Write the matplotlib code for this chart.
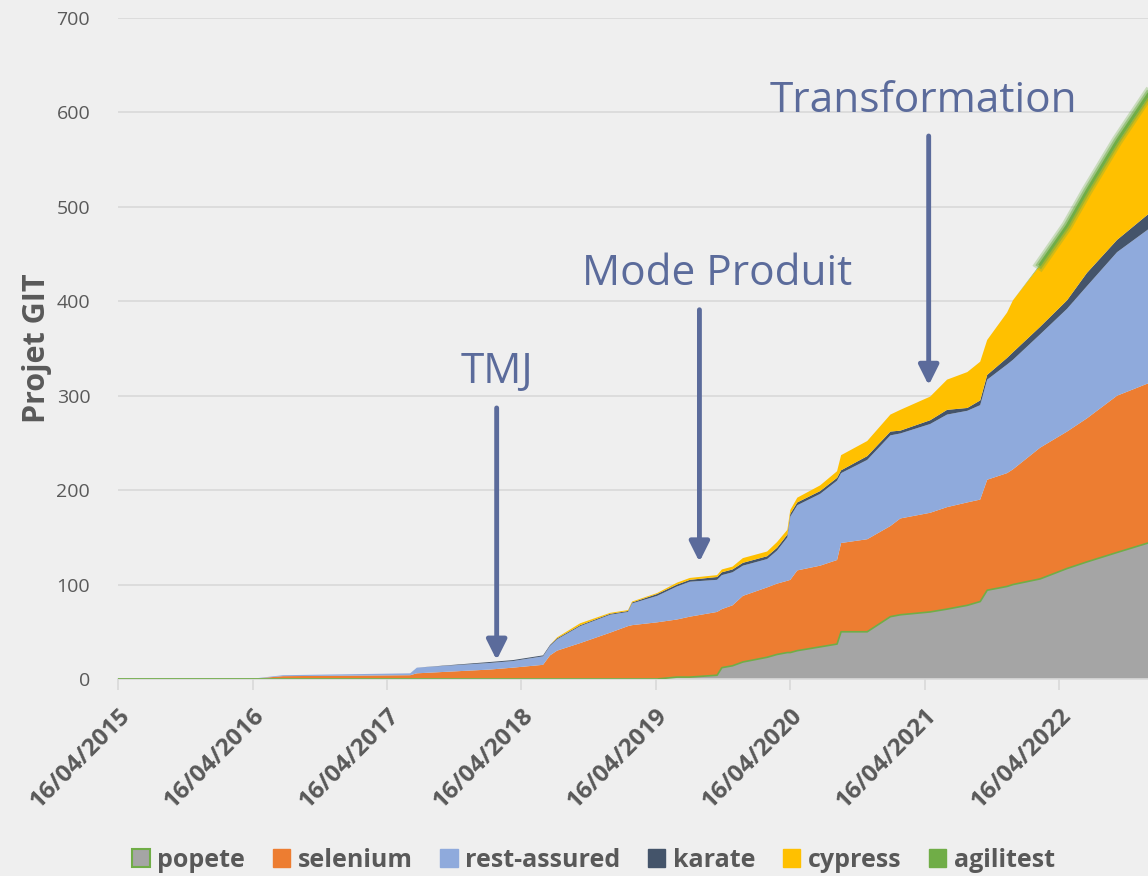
import numpy as np
import pandas as pd
import matplotlib
matplotlib.use("Agg")
import matplotlib.pyplot as plt
import matplotlib.dates as mdates
import matplotlib.patheffects as pe
from matplotlib.patches import Patch


# ----------------------------
# DATA
# ----------------------------
dates = [
    "2015-04-16", "2016-04-08", "2016-07-07", "2017-06-18", "2017-07-06",
    "2018-01-21", "2018-03-24", "2018-06-14", "2018-07-03", "2018-07-22",
    "2018-09-23", "2018-12-13", "2019-01-31", "2019-02-11", "2019-04-20",
    "2019-06-13", "2019-07-18", "2019-09-30", "2019-10-13", "2019-11-11",
    "2019-12-09", "2020-02-13", "2020-03-11", "2020-04-08", "2020-04-16",
    "2020-05-05", "2020-07-06", "2020-08-21", "2020-09-01", "2020-11-11",
    "2021-01-13", "2021-02-09", "2021-05-01", "2021-06-16", "2021-08-10",
    "2021-09-14", "2021-10-03", "2021-11-26", "2021-12-12", "2022-02-24",
    "2022-05-08", "2022-07-01", "2022-09-21", "2022-12-14",
]

popete = [0, 0, 0, 0, 0, 0, 0, 0, 0, 0,
          0, 0, 0, 0, 0, 2, 2, 4, 12, 14,
          18, 23, 26, 28, 28, 30, 34, 37, 50, 50,
          66, 68, 71, 74, 78, 82, 94, 98, 100, 106,
          117, 124, 134, 144]
selenium = [0, 0, 3, 4, 6, 10, 12, 15, 25, 30,
            38, 49, 56, 57, 60, 61, 64, 67, 62, 64,
            70, 74, 75, 76, 77, 85, 86, 89, 94, 98,
            96, 102, 105, 108, 109, 108, 117, 120, 122, 139,
            145, 152, 166, 169]
rest_assured = [0, 0, 1, 2, 6, 7, 7, 9, 10, 12,
                18, 19, 15, 23, 28, 35, 37, 34, 36, 35,
                32, 30, 35, 46, 67, 69, 76, 84, 74, 84,
                96, 90, 94, 98, 97, 100, 106, 115, 116, 120,
                130, 140, 152, 163]
karate = [0, 0, 0, 0, 0, 1, 1, 1, 1, 1,
          1, 1, 1, 1, 2, 2, 2, 3, 3, 3,
          3, 3, 3, 3, 3, 3, 3, 3, 3, 4,
          4, 3, 4, 5, 3, 5, 5, 7, 8, 8,
          9, 14, 13, 16]
cypress = [0, 0, 0, 0, 0, 0, 0, 0, 0, 1,
           2, 1, 1, 1, 1, 2, 2, 2, 3, 3,
           5, 5, 6, 5, 4, 5, 6, 7, 16, 16,
           18, 22, 25, 32, 38, 41, 37, 48, 55, 65,
           77, 85, 102, 124]
agilitest = [0, 0, 0, 0, 0, 0, 0, 0, 0, 0,
             0, 0, 0, 0, 0, 0, 0, 0, 0, 0,
             0, 0, 0, 0, 0, 0, 0, 0, 0, 0,
             0, 0, 0, 0, 0, 0, 0, 0, 0, 1,
             2, 2, 3, 3]

series_names = ["popete", "selenium", "rest-assured", "karate", "cypress", "agilitest"]
series_colors = ["#A5A5A5", "#ED7D31", "#8FAADC", "#44546A", "#FFC000", "#70AD47"]

tick_years = [2015, 2016, 2017, 2018, 2019, 2020, 2021, 2022]

# (label, text date, text y, arrow date, arrow start y, arrow tip y)
events = [
    ("TMJ", "2018-02-08", 325, "2018-02-08", 287, 20),
    ("Mode Produit", "2019-09-30", 429, "2019-08-13", 391, 124),
    ("Transformation", "2021-04-12", 612, "2021-04-27", 575, 311),
]


# ----------------------------
# FIGURE
# ----------------------------
BG = "#EFEFEF"
GRID = "#D9D9D9"
TXT = "#595959"
NOTE = "#5B6B9B"

plt.rcParams["font.family"] = ["Open Sans", "DejaVu Sans"]

fig = plt.figure(figsize=(11.48, 8.76), dpi=100, facecolor=BG)
ax = fig.add_axes([0.1028, 0.2249, 0.8972, 0.7546], facecolor=BG)

x = mdates.date2num(pd.to_datetime(dates))
values = [popete, selenium, rest_assured, karate, cypress, agilitest]

ax.stackplot(x, *values, colors=series_colors, linewidth=0, zorder=2)

# green outline on popete top
ax.plot(x, popete, color="#70AD47", lw=1.2, zorder=3)

# glowing agilitest top
total = np.sum(np.array(values), axis=0)
mask = np.array(agilitest) > 0
ax.plot(x[mask], total[mask], color="#70AD47", lw=2, zorder=4,
        path_effects=[pe.Stroke(linewidth=8, foreground="#70AD47", alpha=0.3),
                      pe.Stroke(linewidth=5, foreground="#70AD47", alpha=0.5),
                      pe.Normal()])

# axes styling
ax.set_ylim(0, 700)
ax.set_yticks(range(0, 701, 100))
ax.set_xlim(mdates.date2num(pd.Timestamp("2015-04-16")),
            mdates.date2num(pd.Timestamp("2022-12-14")))
ticks = [mdates.date2num(pd.Timestamp(f"{y}-04-16")) for y in tick_years]
ax.set_xticks(ticks)
ax.set_xticklabels([f"16/04/{y}" for y in tick_years], rotation=45,
                   ha="right", va="top", rotation_mode="anchor",
                   fontsize=17.5, fontweight="bold", color=TXT)

ax.grid(axis="y", color=GRID, lw=1.2, zorder=0)
ax.set_axisbelow(True)
for s in ["top", "right", "left"]:
    ax.spines[s].set_visible(False)
ax.spines["bottom"].set_color(GRID)
ax.spines["bottom"].set_linewidth(1.2)
ax.tick_params(axis="y", length=0, pad=20, labelsize=14, labelcolor=TXT)
ax.tick_params(axis="x", length=8, width=1.2, color=GRID, pad=10)

ax.set_ylabel("Projet GIT", fontsize=22, fontweight="bold", color=TXT, labelpad=3)

# event annotations
for label, tdate, ty, adate, y0, y1 in events:
    ax.text(mdates.date2num(pd.Timestamp(tdate)), ty, label, ha="center",
            va="center", fontsize=30.5, color=NOTE, zorder=6)
    xa = mdates.date2num(pd.Timestamp(adate))
    ax.annotate("", xy=(xa, y1), xytext=(xa, y0),
                arrowprops=dict(arrowstyle="-|>", color=NOTE, lw=3.5,
                                mutation_scale=30, shrinkA=0, shrinkB=0),
                zorder=6)

# legend
handles = []
for name, col in zip(series_names, series_colors):
    if name == "popete":
        handles.append(Patch(facecolor=col, edgecolor="#70AD47", lw=1.5, label=name))
    else:
        handles.append(Patch(facecolor=col, edgecolor=col, label=name))
fig.legend(handles=handles, loc="center", bbox_to_anchor=(0.517, 0.018), ncol=6,
           frameon=False, handlelength=0.7, handleheight=0.7, handletextpad=0.3,
           columnspacing=1.1,
           prop={"family": ["Open Sans", "DejaVu Sans"], "weight": "bold", "size": 18})
for t in fig.legends[0].get_texts():
    t.set_color(TXT)

fig.savefig("out.png", dpi=100, facecolor=BG)
